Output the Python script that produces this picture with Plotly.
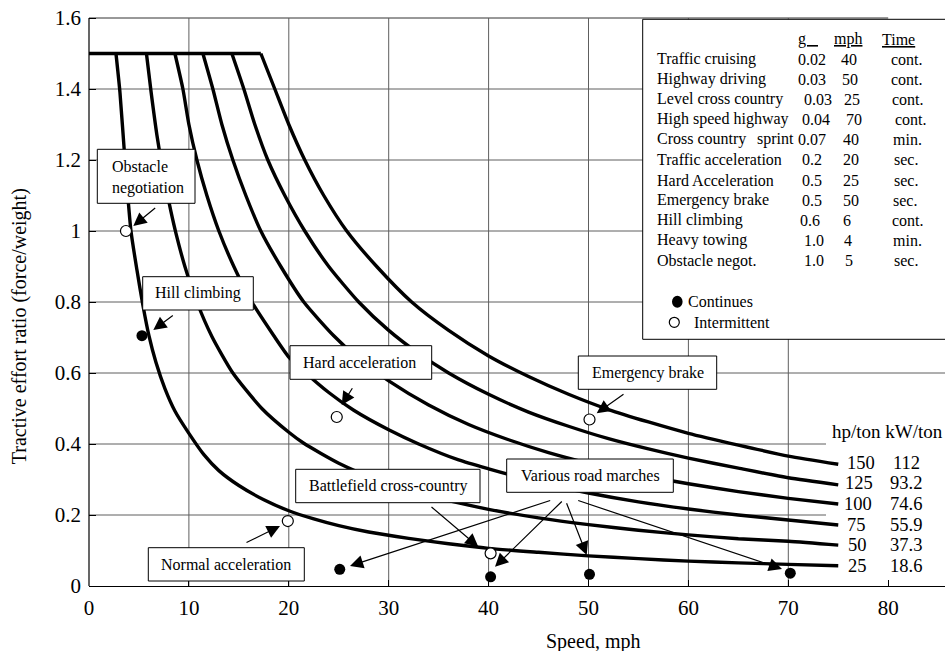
import plotly.graph_objects as go

# ------------------------------------------------------------------ data
hp_per_ton = ["25", "50", "75", "100", "125", "150"]
kw_per_ton = ["18.6", "37.3", "55.9", "74.6", "93.2", "112"]

cap_x = [0.0, 17.2]
cap_y = [1.5, 1.5]

x25 = [2.7, 3.1, 3.6, 4.2, 4.8, 5.4, 6.0, 6.7, 7.6, 8.6, 10.0, 11.5, 13.0, 15.0, 17.5,
       20.0, 22.5, 25.0, 28.0, 32.0, 36.0, 40.0, 45.0, 50.0, 55.0, 60.0, 65.0, 70.0, 75.0]
y25 = [1.50, 1.39, 1.20, 1.00, 0.89, 0.79, 0.705, 0.63, 0.556, 0.493, 0.43, 0.37, 0.325, 0.283, 0.243,
       0.212, 0.189, 0.170, 0.152, 0.134, 0.119, 0.106, 0.095, 0.085, 0.077, 0.070, 0.065, 0.061, 0.057]

x50 = [5.75, 6.2, 6.8, 7.5, 8.2, 8.7, 9.6, 10.8, 12.3, 14.4, 17.3, 20.0, 21.5, 25.0, 29.0,
       33.0, 37.0, 40.0, 45.0, 50.0, 55.0, 60.0, 65.0, 70.0, 75.0]
y50 = [1.50, 1.395, 1.27, 1.153, 1.055, 0.994, 0.90, 0.80, 0.703, 0.60, 0.50, 0.433, 0.402, 0.346, 0.298,
       0.262, 0.234, 0.216, 0.192, 0.173, 0.157, 0.144, 0.133, 0.126, 0.115]

x75 = [8.6, 9.4, 10.0, 10.8, 11.8, 13.0, 14.5, 16.3, 18.5, 20.0, 21.5, 24.0, 26.5, 30.0,
       33.0, 37.0, 40.0, 45.0, 50.0, 55.0, 60.0, 65.0, 70.0, 75.0]
y75 = [1.50, 1.40, 1.30, 1.20, 1.10, 1.00, 0.90, 0.80, 0.705, 0.645, 0.605, 0.545, 0.495, 0.440,
       0.400, 0.355, 0.330, 0.292, 0.262, 0.237, 0.217, 0.200, 0.186, 0.172]

x100 = [11.4, 12.4, 13.3, 14.4, 15.7, 17.2, 19.2, 21.5, 24.5, 27.0, 30.0, 34.0, 38.0, 42.0,
        46.0, 50.0, 55.0, 60.0, 65.0, 70.0, 75.0]
y100 = [1.50, 1.40, 1.30, 1.20, 1.10, 1.00, 0.90, 0.80, 0.705, 0.640, 0.578, 0.510, 0.455, 0.412,
        0.376, 0.346, 0.314, 0.288, 0.266, 0.247, 0.231]

x125 = [14.3, 15.5, 16.6, 17.9, 19.6, 21.6, 24.0, 27.0, 30.0, 33.0, 36.0, 40.0, 44.0, 48.0,
        52.0, 56.0, 60.0, 65.0, 70.0, 75.0]
y125 = [1.50, 1.40, 1.30, 1.20, 1.10, 1.00, 0.90, 0.80, 0.72, 0.655, 0.60, 0.54, 0.49, 0.45,
        0.415, 0.386, 0.36, 0.332, 0.305, 0.285]

x150 = [17.2, 18.6, 20.0, 21.6, 23.5, 25.8, 28.8, 32.3, 36.0, 40.0, 44.0, 48.0, 52.0, 56.0,
        60.0, 65.0, 70.0, 75.0]
y150 = [1.50, 1.40, 1.30, 1.20, 1.10, 1.00, 0.90, 0.80, 0.72, 0.648, 0.59, 0.54, 0.497, 0.462,
        0.43, 0.397, 0.366, 0.343]

# measured operating points
intermittent_x = [3.7, 19.9, 24.8, 40.2, 50.1]
intermittent_y = [1.0, 0.183, 0.476, 0.092, 0.469]
continuous_x = [5.3, 25.1, 40.2, 50.1, 70.2]
continuous_y = [0.705, 0.047, 0.026, 0.033, 0.036]

# requirement table
cond_names = ["Traffic cruising", "Highway driving", "Level cross country", "High speed highway",
              "Cross country", "Traffic acceleration", "Hard Acceleration", "Emergency brake",
              "Hill climbing", "Heavy towing", "Obstacle negot."]
cond_g = ["0.02", "0.03", "0.03", "0.04", "0.07", "0.2", "0.5", "0.5", "0.6", "1.0", "1.0"]
cond_mph = ["40", "50", "25", "70", "40", "20", "25", "50", "6", "4", "5"]
cond_time = ["cont.", "cont.", "cont.", "cont.", "min.", "sec.", "sec.", "sec.", "cont.", "min.", "sec."]

x_ticks = [0, 10, 20, 30, 40, 50, 60, 70, 80]
y_ticks = [0, 0.2, 0.4, 0.6, 0.8, 1.0, 1.2, 1.4, 1.6]
y_tick_text = ["0", "0.2", "0.4", "0.6", "0.8", "1", "1.2", "1.4", "1.6"]

# ------------------------------------------------------------------ layout geometry
FONT = "Liberation Serif"
ML, MR, MT, MB = 89, 0, 11, 65
PW = 945 - ML - MR
PH = 651 - MT - MB
PXX = 9.99    # pixels per mph
PXY = 355.0   # pixels per unit ratio
X_MAX = PW / PXX
Y_MAX = PH / PXY


def dx(px):
    return (px - ML) / PXX


def dy(py):
    return (651 - MB - py) / PXY


def paper_x(px):
    return (px - ML) / PW


def paper_y(py):
    return (651 - MB - py) / PH


fig = go.Figure()

curves = [(x25, y25), (x50, y50), (x75, y75), (x100, y100), (x125, y125), (x150, y150)]
fig.add_trace(go.Scatter(x=cap_x, y=cap_y, mode="lines",
                         line=dict(color="black", width=3.6), hoverinfo="skip"))
for (cx, cy), name in zip(curves, hp_per_ton):
    fig.add_trace(go.Scatter(x=cx, y=cy, mode="lines", name=name + " hp/ton",
                             line=dict(color="black", width=3.4, shape="spline", smoothing=0.6)))

fig.add_trace(go.Scatter(x=intermittent_x, y=intermittent_y, mode="markers",
                         marker=dict(symbol="circle", size=11, color="white",
                                     line=dict(color="black", width=1.2))))
fig.add_trace(go.Scatter(x=continuous_x, y=continuous_y, mode="markers",
                         marker=dict(symbol="circle", size=11, color="black",
                                     line=dict(color="black", width=0))))

shapes = []
GRID = "#5e5e5e"
# horizontal gridlines
for v in y_ticks[1:-1]:
    shapes.append(dict(type="line", xref="x", yref="y", x0=0, x1=X_MAX + 1, y0=v, y1=v,
                       line=dict(color=GRID, width=1), layer="below"))
shapes.append(dict(type="line", xref="x", yref="y", x0=0, x1=80, y0=1.6, y1=1.6,
                   line=dict(color="#333333", width=1), layer="below"))
# vertical gridlines
for v in x_ticks[1:-1]:
    shapes.append(dict(type="line", xref="x", yref="y", x0=v, x1=v, y0=0, y1=1.6,
                       line=dict(color=GRID, width=1), layer="below"))
# white area behind the right-hand labels
shapes.append(dict(type="rect", xref="x", yref="y", x0=dx(826), x1=X_MAX + 1, y0=dy(580), y1=dy(420),
                   fillcolor="white", line=dict(width=0), layer="below"))
# legend/table box
shapes.append(dict(type="rect", xref="x", yref="y", x0=dx(642.7), x1=X_MAX + 2, y0=dy(339.3), y1=dy(19.3),
                   fillcolor="white", line=dict(color="black", width=1), layer="below"))
# y axis line
shapes.append(dict(type="line", xref="paper", yref="y", x0=0, x1=0, y0=0, y1=1.6,
                   line=dict(color="black", width=1.2)))

# label boxes (pixel rectangles)
label_boxes = [
    ("Obstacle<br>negotiation", (97.3, 149.3, 195, 203.3), (110, 177.5), "left"),
    ("Hill climbing", (142.7, 276.7, 253.3, 310), (198, 293.3), "center"),
    ("Hard acceleration", (290, 345.7, 431.7, 379.3), (359.5, 362.5), "center"),
    ("Emergency brake", (578.3, 356, 716.7, 389.3), (647.5, 372.7), "center"),
    ("Battlefield cross-country", (295.7, 469.3, 480, 502.7), (388, 486), "center"),
    ("Various road marches", (506.7, 459, 673.3, 492.3), (590, 475.7), "center"),
    ("Normal acceleration", (148.3, 547.7, 304.3, 581), (226.3, 564.3), "center"),
]
annotations = []
for text, (x0, y0, x1, y1), (tx, ty), al in label_boxes:
    shapes.append(dict(type="rect", xref="x", yref="y", x0=dx(x0), x1=dx(x1), y0=dy(y1), y1=dy(y0),
                       fillcolor="white", line=dict(color="black", width=1), layer="above"))
    annotations.append(dict(x=dx(tx), y=dy(ty), xref="x", yref="y", text=text, showarrow=False,
                            xanchor="left" if al == "left" else "center", yanchor="middle", align=al,
                            font=dict(family=FONT, size=16, color="black")))

# arrows: (tail px, head px)
arrows = [
    ((156.7, 206.7), (133.3, 226)),
    ((174.3, 314.3), (153.3, 330)),
    ((353.3, 386.7), (341.7, 405)),
    ((625, 393.3), (596.7, 413.3)),
    ((245, 543.3), (280, 526)),
    ((430, 505.7), (478.3, 546.7)),
    ((551.7, 500), (350, 566)),
    ((563.3, 500), (495, 566.7)),
    ((566, 501.7), (586.7, 555)),
    ((576.7, 500), (782, 569)),
]
for (tx, ty), (hx, hy) in arrows:
    annotations.append(dict(x=dx(hx), y=dy(hy), ax=dx(tx), ay=dy(ty), xref="x", yref="y",
                            axref="x", ayref="y", text="", showarrow=True, arrowhead=2,
                            arrowsize=2.2, arrowwidth=1.2, arrowcolor="black",
                            standoff=0, startstandoff=0))

# table
TF = dict(family=FONT, size=16, color="black")
rows_py = [59.3, 79, 99, 119, 139.3, 159.3, 180, 200, 220, 240, 260.5]
g_px = [796.7, 796.7, 802.7, 801, 796.5, 800.7, 800.7, 800.7, 799, 802.7, 802.7]
mph_px = [840, 841, 843.3, 845, 842.3, 842.3, 842.3, 842.3, 842.3, 843.3, 844.3]
time_px = [890, 890, 891, 894, 891.7, 892.7, 892.7, 891.7, 891, 891.7, 892.7]


def txt(px, py, text, font=TF, anchor="left"):
    annotations.append(dict(x=dx(px), y=dy(py), xref="x", yref="y", text=text, showarrow=False,
                            xanchor=anchor, yanchor="middle", font=font, borderpad=0))


txt(797, 39, "<u>g&nbsp;&nbsp;&nbsp;</u>")
txt(832.7, 39, "<u>mph</u>")
txt(880.7, 39, "<u>Time</u>")
for i, name in enumerate(cond_names):
    py = rows_py[i]
    txt(655.7, py, name)
    if i == 4:
        txt(755.5, py, "sprint")
    txt(g_px[i], py, cond_g[i])
    txt(mph_px[i], py, cond_mph[i])
    txt(time_px[i], py, cond_time[i])

# legend symbols
shapes.append(dict(type="circle", xref="x", yref="y", xsizemode="pixel", ysizemode="pixel",
                   xanchor=dx(677.3), yanchor=dy(301.7), x0=-5.3, x1=5.3, y0=-6, y1=6,
                   fillcolor="black", line=dict(color="black", width=0), layer="above"))
shapes.append(dict(type="circle", xref="x", yref="y", xsizemode="pixel", ysizemode="pixel",
                   xanchor=dx(674.3), yanchor=dy(322.3), x0=-5, x1=5, y0=-5, y1=5,
                   fillcolor="white", line=dict(color="black", width=1.2), layer="above"))
txt(687.3, 301.7, "Continues")
txt(692.7, 322.3, "Intermittent")

# power labels on the right
RF = dict(family=FONT, size=18.5, color="black")
txt(944, 431.7, "hp/ton kW/ton", dict(family=FONT, size=19, color="black"), anchor="right")
label_py = [566.3, 545.2, 524.5, 504, 483.3, 462.5]
hp_px = [847.3, 846.7, 846, 843.3, 844, 846]
for i in range(6):
    txt(hp_px[i], label_py[i], hp_per_ton[i], RF)
    txt(906, label_py[i], kw_per_ton[i], RF, anchor="center")

# axis titles
annotations.append(dict(x=paper_x(592.5), y=paper_y(641.7), xref="paper", yref="paper",
                        text="Speed, mph", showarrow=False, xanchor="center", yanchor="middle",
                        font=dict(family=FONT, size=20, color="black")))
annotations.append(dict(x=paper_x(19.5), y=paper_y(326.7), xref="paper", yref="paper",
                        text="Tractive effort ratio (force/weight)",
                        showarrow=False, textangle=-90, xanchor="center", yanchor="middle",
                        font=dict(family=FONT, size=20, color="black")))

fig.update_layout(
    width=945, height=651,
    margin=dict(l=ML, r=MR, t=MT, b=MB, pad=0, autoexpand=False),
    paper_bgcolor="white", plot_bgcolor="white",
    showlegend=False,
    shapes=shapes, annotations=annotations,
    font=dict(family=FONT, size=21, color="black"),
    xaxis=dict(range=[0, X_MAX], tickvals=x_ticks, showgrid=False, zeroline=False,
               automargin=False, showline=True, linecolor="black", linewidth=1.2,
               ticks="inside", ticklen=6, tickcolor="black", tickwidth=1,
               ticklabelstandoff=3,
               tickfont=dict(family=FONT, size=21, color="black")),
    yaxis=dict(range=[0, Y_MAX], tickvals=y_ticks, ticktext=y_tick_text, showgrid=False,
               zeroline=False, showline=False, automargin=False,
               ticks="inside", ticklen=7, tickcolor="black", tickwidth=1,
               ticklabelstandoff=7,
               tickfont=dict(family=FONT, size=21, color="black")),
)

fig.write_html("out.html", config={"displayModeBar": False},
               post_script="document.body.style.margin='0';document.body.style.overflow='hidden';")
